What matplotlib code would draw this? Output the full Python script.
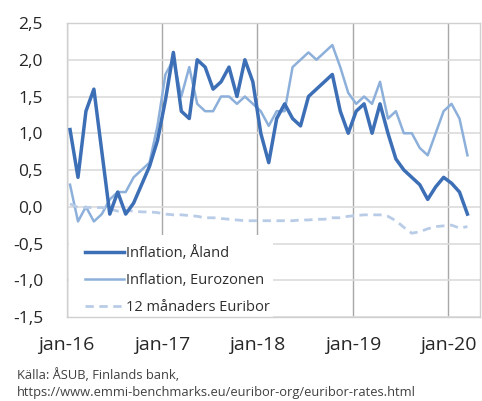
import numpy as np
import matplotlib
matplotlib.use("Agg")
import matplotlib.pyplot as plt
from matplotlib.patches import Rectangle
from matplotlib.ticker import FuncFormatter

# ===== DATA (monthly, jan-16 .. mar-20) =====
aland = [1.05, 0.4, 1.3, 1.6, 0.75, -0.1, 0.2, -0.1, 0.05, 0.3, 0.55, 0.9,
         1.45, 2.1, 1.3, 1.2, 2.0, 1.9, 1.6, 1.7, 1.9, 1.5, 2.0, 1.7,
         1.0, 0.6, 1.2, 1.4, 1.2, 1.1, 1.5, 1.6, 1.7, 1.8, 1.3, 1.0,
         1.3, 1.4, 1.0, 1.4, 1.0, 0.65, 0.5, 0.4, 0.3, 0.1, 0.27, 0.4,
         0.32, 0.2, -0.1]
eurozone = [0.3, -0.2, 0.0, -0.2, -0.1, 0.1, 0.2, 0.2, 0.4, 0.5, 0.6, 1.1,
            1.8, 2.0, 1.5, 1.9, 1.4, 1.3, 1.3, 1.5, 1.5, 1.4, 1.5, 1.4,
            1.3, 1.1, 1.3, 1.3, 1.9, 2.0, 2.1, 2.0, 2.1, 2.2, 1.9, 1.55,
            1.4, 1.5, 1.4, 1.7, 1.2, 1.3, 1.0, 1.0, 0.8, 0.7, 1.0, 1.3,
            1.4, 1.2, 0.7]
euribor = [0.04, -0.01, -0.01, -0.01, -0.01, -0.03, -0.06, -0.05, -0.06, -0.07, -0.07, -0.08,
           -0.10, -0.11, -0.11, -0.12, -0.13, -0.15, -0.15, -0.16, -0.17, -0.18, -0.19, -0.19,
           -0.19, -0.19, -0.19, -0.19, -0.19, -0.18, -0.18, -0.17, -0.17, -0.15, -0.15, -0.13,
           -0.12, -0.11, -0.11, -0.11, -0.13, -0.19, -0.28, -0.36, -0.34, -0.30, -0.27, -0.26,
           -0.25, -0.29, -0.27]

year_labels = ["jan-16", "jan-17", "jan-18", "jan-19", "jan-20"]
series_names = ["Inflation, Åland", "Inflation, Eurozonen", "12 månaders Euribor"]

# months since jan-16, points sit a bit inside each month
x = np.arange(len(aland)) + 0.42
year_ticks = np.arange(len(year_labels)) * 12

plt.rcParams["font.family"] = ["Open Sans", "DejaVu Sans"]

fig = plt.figure(figsize=(4.82, 4.01), dpi=100)
ax = fig.add_axes([66.7 / 482, 84 / 401, 413.3 / 482, 294 / 401])

ax.plot(x, aland, color="#3d6fb6", lw=2.5, label=series_names[0], zorder=4,
        solid_joinstyle="round")
ax.plot(x, eurozone, color="#8db0db", lw=1.8, label=series_names[1], zorder=3,
        solid_joinstyle="round")
ax.plot(x, euribor, color="#b9cce7", lw=2.0, dashes=(3, 2), label=series_names[2],
        zorder=3)

ax.set_xlim(0, 52)
ax.set_ylim(-1.5, 2.5)
ax.set_yticks(np.arange(-1.5, 2.51, 0.5))
ax.yaxis.set_major_formatter(FuncFormatter(lambda v, p: f"{v:.1f}".replace(".", ",")))
ax.set_xticks(year_ticks)
ax.set_xticklabels(year_labels)

ax.set_axisbelow(True)
ax.grid(axis="y", color="#dcdcdc", lw=1.2)
ax.grid(axis="x", color="#a8a8a8", lw=1.0)
for s in ax.spines.values():
    s.set_color("#d0d0d0")
    s.set_linewidth(1.0)

ax.tick_params(axis="y", length=0, pad=17, labelsize=12.5, labelcolor="#262626")
ax.tick_params(axis="x", length=0, pad=14, labelsize=14, labelcolor="#262626")

# white area behind the legend hides the grid
ax.add_patch(Rectangle((0.006, 0.0), 0.493, 0.279, transform=ax.transAxes,
                       facecolor="white", edgecolor="none", zorder=1.5))

ax.legend(loc="lower left", bbox_to_anchor=(0.044, 0.008), frameon=False,
          borderpad=0, borderaxespad=0, handlelength=2.7, handletextpad=0.15,
          labelspacing=0.8, fontsize=10.5, labelcolor="#2e2e2e")

fig.text(17 / 482, 1 - 375 / 401, "Källa: ÅSUB, Finlands bank,", fontsize=9.3,
         color="#404040", va="center")
fig.text(17 / 482, 1 - 392.5 / 401,
         "https://www.emmi-benchmarks.eu/euribor-org/euribor-rates.html",
         fontsize=9.3, color="#404040", va="center")

fig.savefig("out.png", dpi=100)
